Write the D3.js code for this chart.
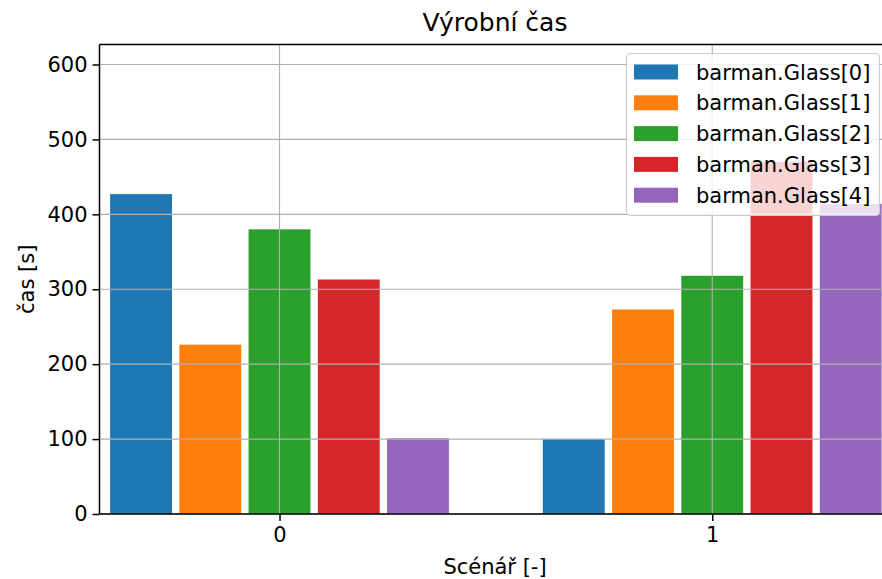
<!DOCTYPE html>
<html><head><meta charset="utf-8">
<script src="https://cdn.jsdelivr.net/npm/d3@7"></script>
<style>body{margin:0;background:#fff}svg{display:block;font-family:"DejaVu Sans",sans-serif}</style>
</head><body>
<svg id="c" width="882" height="579"></svg>
<script>
const scenarios = [0, 1];
const seriesNames = ["barman.Glass[0]","barman.Glass[1]","barman.Glass[2]","barman.Glass[3]","barman.Glass[4]"];
const glass0 = [427, 100];
const glass1 = [226, 273];
const glass2 = [380, 318];
const glass3 = [313, 470];
const glass4 = [101, 414];
const colors = ["#1f77b4","#ff7f0e","#2ca02c","#d62728","#9467bd"];
const yTicks = [0,100,200,300,400,500,600];
const series = [glass0, glass1, glass2, glass3, glass4];

const svg = d3.select("#c");
const L = 99.5, R = 882, T = 44.5, B = 514;
const x = d3.scaleLinear().domain([-0.416, 1.39]).range([L, R - 1]);
const y = d3.scaleLinear().domain([0, 626.7]).range([B, T]);
const step = 0.16, bw = 0.143;

// bars
series.forEach((vals, i) => {
  svg.append("g").selectAll("rect").data(vals).join("rect")
    .attr("x", (d, j) => x(scenarios[j] + (i - 2) * step - bw / 2))
    .attr("width", (d, j) => x(bw) - x(0))
    .attr("y", d => y(d))
    .attr("height", d => y(0) - y(d))
    .attr("fill", colors[i]);
});

// grid
const grid = svg.append("g").attr("stroke", "#b0b0b0").attr("stroke-width", 1.1);
yTicks.forEach(t => grid.append("line").attr("x1", L).attr("x2", R).attr("y1", y(t)).attr("y2", y(t)));
scenarios.forEach(s => grid.append("line").attr("x1", x(s)).attr("x2", x(s)).attr("y1", T).attr("y2", B));

// axes
const yAxis = svg.append("g").attr("transform", `translate(${L},0)`)
  .call(d3.axisLeft(y).tickValues(yTicks).tickSize(7).tickPadding(5));
const xAxis = svg.append("g").attr("transform", `translate(0,${B})`)
  .call(d3.axisBottom(x).tickValues(scenarios).tickSize(7).tickPadding(6).tickFormat(d3.format("d")));
[yAxis, xAxis].forEach(a => {
  a.select(".domain").remove();
  a.selectAll("line").attr("stroke", "#000").attr("stroke-width", 1.5);
  a.selectAll("text").attr("font-size", 21).attr("fill", "#000").attr("font-family", "DejaVu Sans");
});

// spines
const sp = svg.append("g").attr("stroke", "#000").attr("stroke-width", 1.5).attr("fill", "none");
sp.append("line").attr("x1", L).attr("x2", L).attr("y1", T).attr("y2", B);
sp.append("line").attr("x1", L).attr("x2", R).attr("y1", B).attr("y2", B);
sp.append("line").attr("x1", L).attr("x2", R).attr("y1", T).attr("y2", T);

// labels
svg.append("text").attr("x", 495).attr("y", 31).attr("text-anchor", "middle").attr("font-size", 25).text("Výrobní čas");
svg.append("text").attr("x", 495).attr("y", 574).attr("text-anchor", "middle").attr("font-size", 21).text("Scénář [-]");
svg.append("text").attr("transform", `translate(34,${(T + B) / 2}) rotate(-90)`).attr("text-anchor", "middle").attr("font-size", 21).text("čas [s]");

// legend
const lg = svg.append("g");
lg.append("rect").attr("x", 626.5).attr("y", 53.5).attr("width", 253).attr("height", 162).attr("rx", 4)
  .attr("fill", "rgba(255,255,255,0.8)").attr("stroke", "#cccccc").attr("stroke-width", 1.2);
seriesNames.forEach((n, i) => {
  const cy = 72 + i * 30.8;
  lg.append("rect").attr("x", 634).attr("y", cy - 7.5).attr("width", 44).attr("height", 15).attr("fill", colors[i]);
  lg.append("text").attr("x", 696).attr("y", cy + 7.5).attr("font-size", 21).text(n);
});
</script>
</body></html>
